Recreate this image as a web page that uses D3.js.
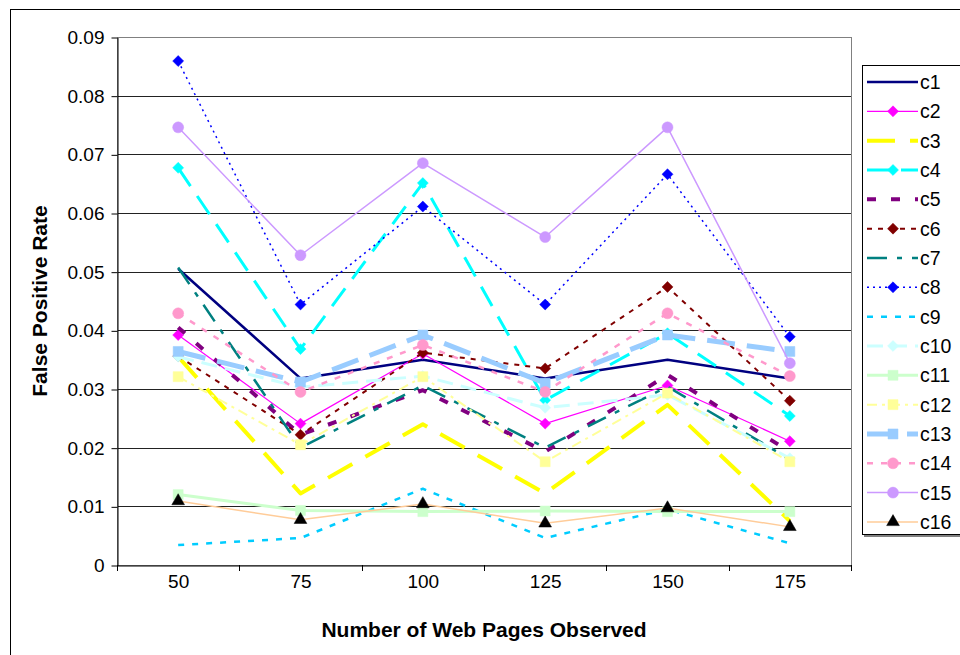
<!DOCTYPE html>
<html><head><meta charset="utf-8">
<script src="https://cdn.jsdelivr.net/npm/d3@7"></script>
<style>body{margin:0;background:#fff}svg{display:block;font-family:"Liberation Sans",Arial,sans-serif}</style>
</head><body>
<svg id="chart" width="960" height="655"></svg>
<script>
const categories = ["50","75","100","125","150","175"];
const yTicks = [0,0.01,0.02,0.03,0.04,0.05,0.06,0.07,0.08,0.09];
const seriesNames = ["c1","c2","c3","c4","c5","c6","c7","c8","c9","c10","c11","c12","c13","c14","c15","c16"];
const c1  = [0.0505,0.0318,0.0350,0.0318,0.0350,0.0318];
const c2  = [0.0392,0.0241,0.0360,0.0241,0.0306,0.0211];
const c3  = [0.0355,0.0122,0.0240,0.0122,0.0273,0.0075];
const c4  = [0.0677,0.0368,0.0651,0.0281,0.0395,0.0254];
const c5  = [0.0405,0.0222,0.0298,0.0193,0.0324,0.0193];
const c6  = [0.0356,0.0222,0.0362,0.0335,0.0474,0.0280];
const c7  = [0.0507,0.0200,0.0306,0.0200,0.0304,0.0180];
const c8  = [0.0859,0.0444,0.0611,0.0444,0.0666,0.0389];
const c9  = [0.0034,0.0046,0.0130,0.0046,0.0095,0.0037];
const c10 = [0.0355,0.0303,0.0322,0.0268,0.0290,0.0182];
const c11 = [0.0120,0.0093,0.0091,0.0092,0.0091,0.0091];
const c12 = [0.0321,0.0205,0.0321,0.0176,0.0293,0.0176];
const c13 = [0.0364,0.0312,0.0392,0.0310,0.0392,0.0364];
const c14 = [0.0429,0.0295,0.0375,0.0295,0.0429,0.0322];
const c15 = [0.0746,0.0528,0.0685,0.0559,0.0746,0.0344];
const c16 = [0.0109,0.0077,0.0104,0.0071,0.0097,0.0065];
const values = [c1,c2,c3,c4,c5,c6,c7,c8,c9,c10,c11,c12,c13,c14,c15,c16];

// styles
const styles = [
  {color:"#000080", w:2.5, dash:null, marker:null},
  {color:"#FF00FF", w:1.2, dash:null, marker:"diamond"},
  {color:"#FFFF00", w:4, dash:"28,15", marker:null},
  {color:"#00FFFF", w:3, dash:"22,12", marker:"diamond"},
  {color:"#800080", w:4, dash:"9,15", marker:null},
  {color:"#800000", w:2, dash:"5,6", marker:"diamond"},
  {color:"#008080", w:2.5, dash:"20,10,5,10", marker:null},
  {color:"#0000FF", w:1.5, dash:"2,4", marker:"diamond"},
  {color:"#00CCFF", w:2.5, dash:"6,8", marker:null},
  {color:"#CCFFFF", w:3, dash:"16,8", marker:"diamond"},
  {color:"#CCFFCC", w:3, dash:null, marker:"square"},
  {color:"#FFFF99", w:2, dash:"10,5,3,5", marker:"square"},
  {color:"#99CCFF", w:5, dash:"28,12", marker:"square"},
  {color:"#FF99CC", w:2.5, dash:"6,8", marker:"circle"},
  {color:"#CC99FF", w:1.5, dash:null, marker:"circle"},
  {color:"#FFCC99", w:1.5, dash:null, marker:"triangle", mcolor:"#000000"}
];

const svg = d3.select("#chart");
const L=117, R=851, T=37, B=565;
const x = d3.scaleBand().domain(categories).range([L,R]);
const cx = c => x(c) + x.bandwidth()/2;
const y = d3.scaleLinear().domain([0,0.09]).range([B,T]);

// outer frame
svg.append("rect").attr("x",10.5).attr("y",9.5).attr("width",1000).attr("height",700)
  .attr("fill","none").attr("stroke","#000").attr("stroke-width",1);

// gridlines
svg.append("g").selectAll("line").data(yTicks).join("line")
  .attr("x1",L).attr("x2",R).attr("y1",d=>Math.round(y(d))+0.5).attr("y2",d=>Math.round(y(d))+0.5)
  .attr("stroke","#222").attr("stroke-width",1);
// plot border
svg.append("rect").attr("x",L+0.5).attr("y",T+0.5).attr("width",R-L).attr("height",B-T)
  .attr("fill","none").attr("stroke","#808080").attr("stroke-width",1);

// axes
const yAxis = d3.axisLeft(y).tickValues(yTicks).tickSize(6).tickSizeOuter(0)
  .tickFormat(d => d===0 ? "0" : d3.format(".2f")(d));
const gy = svg.append("g").attr("transform",`translate(${L+0.5},0.5)`).call(yAxis);
gy.select(".domain").attr("stroke","#000");
gy.selectAll(".tick line").attr("stroke","#000");
gy.selectAll("text").attr("font-size",19).attr("font-family","Liberation Sans, Arial, sans-serif").attr("fill","#000").attr("dx",-4);

const xAxis = d3.axisBottom(x).tickSize(0).tickSizeOuter(0);
const gx = svg.append("g").attr("transform",`translate(0.5,${B+0.5})`).call(xAxis);
gx.select(".domain").attr("stroke","#000");
gx.selectAll("text").attr("font-size",19).attr("font-family","Liberation Sans, Arial, sans-serif").attr("fill","#000").attr("dy","1.0em");
// category boundary ticks
const bounds = categories.map(c=>x(c)).concat([R]);
svg.append("g").selectAll("line").data(bounds).join("line")
  .attr("x1",d=>Math.round(d)+0.5).attr("x2",d=>Math.round(d)+0.5).attr("y1",B).attr("y2",B+6).attr("stroke","#000");

// axis titles
svg.append("text").attr("x",484).attr("y",637).attr("text-anchor","middle")
  .attr("font-size",21).attr("font-weight","bold").text("Number of Web Pages Observed");
svg.append("text").attr("transform","translate(47,301) rotate(-90)").attr("text-anchor","middle")
  .attr("font-size",21).attr("font-weight","bold").text("False Positive Rate");

function markerPath(type){
  if(type==="diamond") return d3.symbol(d3.symbolSquare,60)();
  if(type==="square") return d3.symbol(d3.symbolSquare,100)();
  if(type==="circle") return d3.symbol(d3.symbolCircle,95)();
  if(type==="triangle") return d3.symbol(d3.symbolTriangle,70)();
  return null;
}
function drawMarker(g, st, px, py){
  if(!st.marker) return;
  g.append("path").attr("d",markerPath(st.marker))
    .attr("transform",`translate(${px},${py})` + (st.marker==="diamond"?" rotate(45)":""))
    .attr("fill",st.mcolor||st.color).attr("stroke",st.mcolor||st.color).attr("stroke-width",0.5);
}

const line = d3.line().x((d,i)=>cx(categories[i])).y(d=>y(d));
const plot = svg.append("g");
values.forEach((vals,si)=>{
  const st = styles[si];
  const g = plot.append("g");
  g.append("path").datum(vals).attr("d",line).attr("fill","none")
    .attr("stroke",st.color).attr("stroke-width",st.w)
    .attr("stroke-dasharray",st.dash).attr("stroke-linejoin","round");
  vals.forEach((v,i)=>drawMarker(g, st, cx(categories[i]), y(v)));
});

// legend
const lg = svg.append("g");
lg.append("rect").attr("x",864).attr("y",67).attr("width",200).attr("height",470).attr("fill","#808080");
lg.append("rect").attr("x",862.5).attr("y",65.5).attr("width",200).attr("height",469).attr("fill","#fff").attr("stroke","#000");
seriesNames.forEach((n,i)=>{
  const st = styles[i];
  const ly = 82 + i*29.33;
  const g = lg.append("g");
  g.append("line").attr("x1",867).attr("x2",918).attr("y1",ly).attr("y2",ly)
    .attr("stroke",st.color).attr("stroke-width",st.w).attr("stroke-dasharray",st.dash);
  drawMarker(g, st, 893, ly);
  g.append("text").attr("x",920).attr("y",ly+7).attr("font-size",19.5).attr("fill","#000").text(n);
});
</script>
</body></html>
